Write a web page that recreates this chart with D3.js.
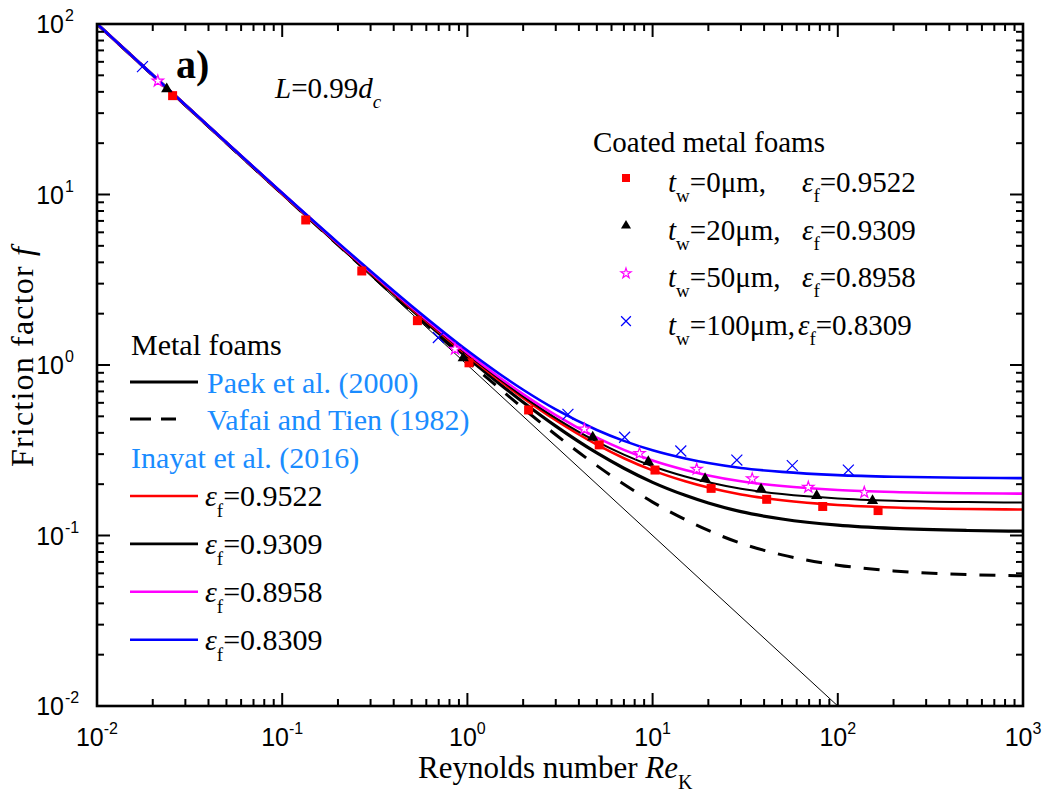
<!DOCTYPE html>
<html>
<head>
<meta charset="utf-8">
<script src="https://cdn.jsdelivr.net/npm/d3@7"></script>
<style>
  body { margin: 0; background: #fff; }
  svg { display: block; }
</style>
</head>
<body>
<div id="chart"></div>
<script>
const W = 1048, H = 796;
const serifFont = "'Liberation Serif', 'Times New Roman', Times, 'DejaVu Serif', serif";
const sansFont = "'Liberation Sans', Arial, Helvetica, sans-serif";

const reGrid = [0.01, 0.02, 0.05, 0.1, 0.2, 0.5, 1, 1.5, 2, 3, 5, 7, 10, 15, 20, 30, 50, 100, 200, 500, 1000];
const paekF  = [100.1, 50.1, 20.1, 10.1, 5.11, 2.11, 1.105, 0.772, 0.605, 0.438, 0.305, 0.248, 0.205, 0.172, 0.155, 0.138, 0.125, 0.115, 0.110, 0.107, 0.106];
const vafaiF = [100.06, 50.06, 20.06, 10.06, 5.06, 2.06, 1.057, 0.724, 0.557, 0.390, 0.257, 0.200, 0.157, 0.124, 0.107, 0.090, 0.077, 0.067, 0.062, 0.059, 0.058];
const inayatRed     = [100.1, 50.1, 20.1, 10.1, 5.14, 2.14, 1.141, 0.808, 0.641, 0.474, 0.341, 0.284, 0.241, 0.208, 0.191, 0.174, 0.161, 0.151, 0.146, 0.143, 0.142];
const inayatBlack   = [100.2, 50.2, 20.2, 10.2, 5.16, 2.16, 1.155, 0.822, 0.655, 0.488, 0.355, 0.298, 0.255, 0.222, 0.205, 0.188, 0.175, 0.165, 0.160, 0.157, 0.156];
const inayatMagenta = [100.2, 50.2, 20.2, 10.2, 5.18, 2.18, 1.175, 0.842, 0.675, 0.508, 0.375, 0.318, 0.275, 0.242, 0.225, 0.208, 0.195, 0.185, 0.180, 0.177, 0.176];
const inayatBlue    = [100.2, 50.2, 20.2, 10.2, 5.22, 2.22, 1.216, 0.883, 0.716, 0.549, 0.416, 0.359, 0.316, 0.283, 0.266, 0.249, 0.236, 0.226, 0.221, 0.218, 0.217];

// thin Darcy line
const darcyRe = [0.01, 100];
const darcyF  = [100, 0.01];

// coated metal foam data points
const sqRe = [0.0256, 0.134, 0.269, 0.537, 1.02, 2.14, 5.15, 10.3, 20.7, 41.3, 82.9, 165];
const sqF  = [38.0, 7.09, 3.56, 1.82, 1.03, 0.545, 0.340, 0.242, 0.189, 0.163, 0.148, 0.140];
const triRe = [0.0238, 0.950, 4.75, 9.48, 19.2, 38.5, 76.9, 154];
const triF  = [41.6, 1.10, 0.377, 0.271, 0.215, 0.187, 0.171, 0.160];
const starRe = [0.0213, 0.857, 4.28, 8.50, 17.3, 34.5, 69.3, 139];
const starF  = [46.3, 1.24, 0.421, 0.303, 0.245, 0.215, 0.192, 0.179];
const crossRe = [0.0176, 0.697, 3.49, 7.06, 14.2, 28.5, 56.8, 114];
const crossF  = [56.2, 1.45, 0.514, 0.377, 0.313, 0.277, 0.257, 0.242];

const twLabels  = ["0", "20", "50", "100"];
const epsLabels = ["0.9522", "0.9309", "0.8958", "0.8309"];

const pLeft = 97, pRight = 1023, pTop = 24, pBottom = 706;

const svg = d3.select("#chart").append("svg").attr("width", W).attr("height", H)
  .attr("font-family", serifFont);

const x = d3.scaleLog().domain([0.01, 1000]).range([pLeft, pRight]);
const y = d3.scaleLog().domain([0.01, 100]).range([pBottom, pTop]);

svg.append("defs").append("clipPath").attr("id", "clip")
  .append("rect").attr("x", pLeft).attr("y", pTop).attr("width", pRight - pLeft).attr("height", pBottom - pTop);

const plot = svg.append("g").attr("clip-path", "url(#clip)");

const line = d3.line().x(d => x(d[0])).y(d => y(d[1])).curve(d3.curveMonotoneX);
const zip = (a, b) => a.map((v, i) => [v, b[i]]);

// curves
plot.append("path").datum(zip(darcyRe, darcyF)).attr("d", line)
  .attr("fill", "none").attr("stroke", "#000").attr("stroke-width", 1);
plot.append("path").datum(zip(reGrid, vafaiF)).attr("d", line)
  .attr("fill", "none").attr("stroke", "#000").attr("stroke-width", 3).attr("stroke-dasharray", "16,13");
plot.append("path").datum(zip(reGrid, paekF)).attr("d", line)
  .attr("fill", "none").attr("stroke", "#000").attr("stroke-width", 3.2);

const inayat = [
  { f: inayatRed, color: "#ff0000", w: 2.6 },
  { f: inayatBlack, color: "#000000", w: 2 },
  { f: inayatMagenta, color: "#ff00ff", w: 2.6 },
  { f: inayatBlue, color: "#0000ff", w: 2.6 }
];
inayat.forEach(s => {
  plot.append("path").datum(zip(reGrid, s.f)).attr("d", line)
    .attr("fill", "none").attr("stroke", s.color).attr("stroke-width", s.w);
});

// markers
const markerSets = [
  { re: sqRe, f: sqF, type: d3.symbolSquare, size: 81, fill: "#ff0000", stroke: "none" },
  { re: triRe, f: triF, type: d3.symbolTriangle, size: 55, fill: "#000", stroke: "none" },
  { re: starRe, f: starF, type: d3.symbolStar, size: 40, fill: "#fff", stroke: "#ff00ff" },
  { re: crossRe, f: crossF, type: d3.symbolX, size: 80, fill: "none", stroke: "#0000ff" }
];
markerSets.forEach(m => {
  svg.append("g").selectAll("path").data(zip(m.re, m.f)).enter().append("path")
    .attr("transform", d => `translate(${x(d[0])},${y(d[1])})`)
    .attr("d", d3.symbol().type(m.type).size(m.size))
    .attr("fill", m.fill).attr("stroke", m.stroke).attr("stroke-width", 1.2);
});

// axes frame + ticks
const isMajor = d => Math.abs(Math.log10(d) - Math.round(Math.log10(d))) < 1e-6;
const axisG = svg.append("g").attr("stroke", "#000").attr("stroke-width", 2);
x.ticks().forEach(d => {
  const len = isMajor(d) ? 13 : 7, px = x(d);
  axisG.append("line").attr("x1", px).attr("x2", px).attr("y1", pBottom).attr("y2", pBottom - len);
  axisG.append("line").attr("x1", px).attr("x2", px).attr("y1", pTop).attr("y2", pTop + len);
});
y.ticks().forEach(d => {
  const len = isMajor(d) ? 13 : 7, py = y(d);
  axisG.append("line").attr("y1", py).attr("y2", py).attr("x1", pLeft).attr("x2", pLeft + len);
  axisG.append("line").attr("y1", py).attr("y2", py).attr("x1", pRight).attr("x2", pRight - len);
});
svg.append("rect").attr("x", pLeft).attr("y", pTop).attr("width", pRight - pLeft).attr("height", pBottom - pTop)
  .attr("fill", "none").attr("stroke", "#000").attr("stroke-width", 2.6);

// tick labels
x.ticks().filter(isMajor).forEach(d => {
  const t = svg.append("text").attr("font-family", sansFont).attr("x", x(d)).attr("y", 746)
    .attr("text-anchor", "middle").attr("font-size", 25);
  t.append("tspan").text("10");
  t.append("tspan").attr("dy", -12).attr("font-size", 16).text(Math.round(Math.log10(d)));
});
y.ticks().filter(isMajor).forEach(d => {
  const py = y(d);
  svg.append("text").attr("font-family", sansFont).attr("x", 64).attr("y", py + 9)
    .attr("text-anchor", "end").attr("font-size", 25).text("10");
  svg.append("text").attr("font-family", sansFont).attr("x", 65).attr("y", py - 3)
    .attr("font-size", 16).text(Math.round(Math.log10(d)));
});

// rich text helper: parts with optional italic / sub offset / size / x
function rich(x0, y0, size, parts, fill) {
  const t = svg.append("text").attr("x", x0).attr("y", y0)
    .attr("font-family", serifFont).attr("font-size", size).attr("fill", fill || "#000");
  let shift = 0;
  parts.forEach(p => {
    const s = t.append("tspan").text(p.t);
    const off = p.sub || 0;
    if (off !== shift) s.attr("dy", off - shift);
    shift = off;
    if (p.it) s.attr("font-style", "italic");
    if (p.size) s.attr("font-size", p.size);
    if (p.x != null) s.attr("x", p.x);
  });
  return t;
}

// axis titles
rich(418, 778, 31, [{ t: "Reynolds number " }, { t: "Re", it: true }, { t: "K", sub: 11, size: 20 }]);
rich(0, 0, 32, [{ t: "Friction factor " }, { t: "f", it: true }])
  .attr("transform", "translate(33,357) rotate(-90)").attr("text-anchor", "middle")
  .attr("textLength", 220).attr("lengthAdjust", "spacing");

// annotations
rich(176, 78, 40, [{ t: "a)" }]).attr("font-weight", "bold");
rich(275, 98, 29, [{ t: "L", it: true }, { t: "=0.99" }, { t: "d", it: true }, { t: "c", it: true, sub: 10, size: 19 }]);

// right legend: coated metal foams
rich(593, 152, 29, [{ t: "Coated metal foams" }]);
const epsX = [802, 802, 802, 798];
markerSets.forEach((m, i) => {
  const by = 192 + i * 47.7;
  svg.append("path").attr("transform", `translate(626,${by - 14})`)
    .attr("d", d3.symbol().type(m.type).size(m.size * 0.8))
    .attr("fill", m.fill).attr("stroke", m.stroke).attr("stroke-width", 1.2);
  rich(668, by, 29, [
    { t: "t", it: true }, { t: "w", sub: 10, size: 19 }, { t: "=" + twLabels[i] + "μm," },
    { t: "ε", it: true, x: epsX[i] }, { t: "f", sub: 10, size: 19 }, { t: "=" + epsLabels[i] }
  ]);
});

// left legend: metal foams
const blueText = "#1a8cff";
rich(131, 355, 30, [{ t: "Metal foams" }]);
svg.append("line").attr("x1", 130).attr("x2", 198).attr("y1", 382).attr("y2", 382)
  .attr("stroke", "#000").attr("stroke-width", 3.2);
rich(207, 393, 30, [{ t: "Paek et al. (2000)" }], blueText);
svg.append("line").attr("x1", 130).attr("x2", 176).attr("y1", 419).attr("y2", 419)
  .attr("stroke", "#000").attr("stroke-width", 3.2).attr("stroke-dasharray", "21,10");
rich(207, 430, 30, [{ t: "Vafai and Tien (1982)" }], blueText);
rich(131, 468, 30, [{ t: "Inayat et al. (2016)" }], blueText);
inayat.forEach((s, i) => {
  const ly = 496 + i * 47.9;
  svg.append("line").attr("x1", 130).attr("x2", 198).attr("y1", ly).attr("y2", ly)
    .attr("stroke", s.color).attr("stroke-width", 2.6);
  rich(205, ly + 10, 30, [{ t: "ε", it: true }, { t: "f", sub: 11, size: 19 }, { t: "=" + epsLabels[i] }]);
});
</script>
</body>
</html>
